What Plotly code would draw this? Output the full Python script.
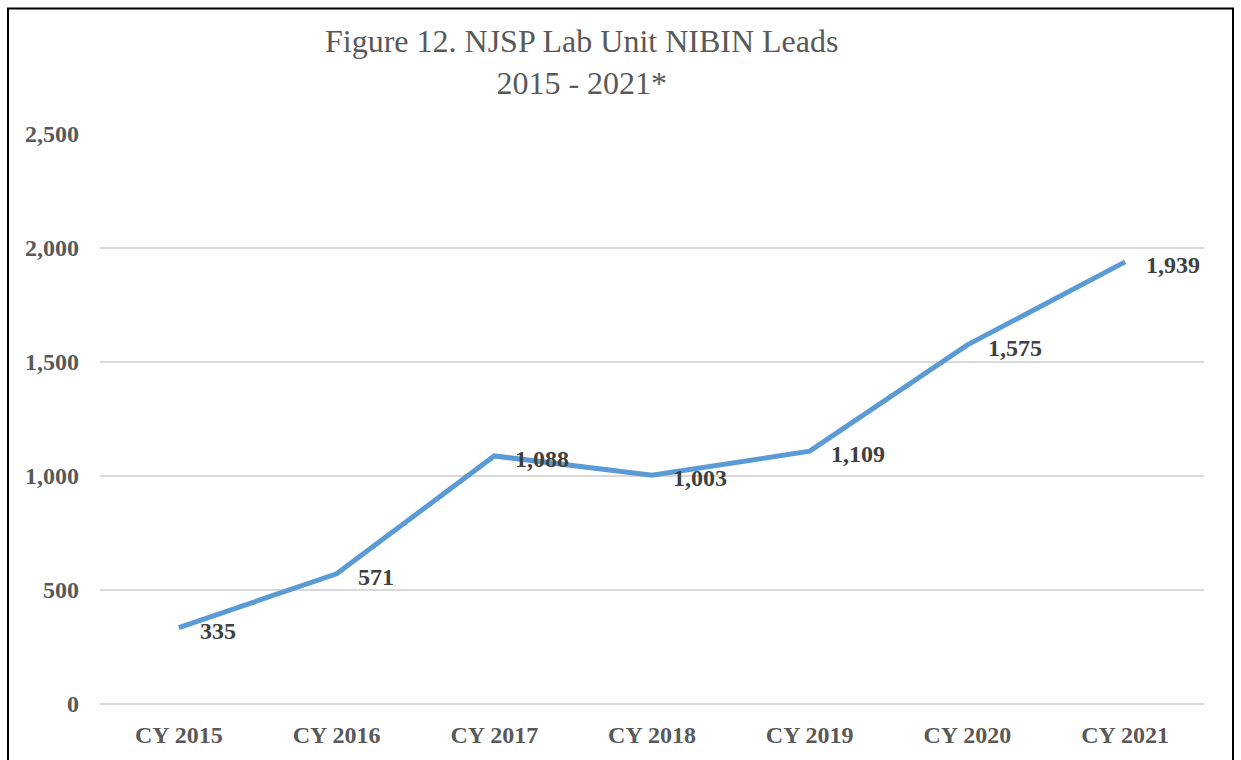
import plotly.graph_objects as go

categories = ["CY 2015", "CY 2016", "CY 2017", "CY 2018", "CY 2019", "CY 2020", "CY 2021"]
leads = [335, 571, 1088, 1003, 1109, 1575, 1939]
y_ticks = [0, 500, 1000, 1500, 2000, 2500]

W, H = 1241, 760
ml, mr, mt, mb = 100, 37, 134, 54
pw = W - ml - mr
ph = H - mt - mb

def px_x(p):
    return (p - ml) / pw

def px_y(p):
    return (H - mb - p) / ph

serif = "Liberation Serif, Times New Roman, serif"

fig = go.Figure()
fig.add_trace(go.Scatter(
    x=categories, y=leads, mode="lines",
    line=dict(color="#5B9BD5", width=5),
    hoverinfo="x+y",
))

for c, v in zip(categories, leads):
    fig.add_annotation(
        x=c, y=v, xref="x", yref="y", text=f"{v:,}", showarrow=False,
        xanchor="left", yanchor="middle", xshift=19, yshift=-3,
        font=dict(family=serif, size=24, color="#404040", weight="bold"),
    )

fig.add_annotation(
    text="Figure 12. NJSP Lab Unit NIBIN Leads<br>2015 - 2021*",
    x=px_x(581), xref="paper", xanchor="center",
    y=px_y(62), yref="paper", yanchor="middle",
    showarrow=False,
    font=dict(family=serif, size=32, color="#595959"),
)

fig.update_layout(
    width=W, height=H,
    margin=dict(l=ml, r=mr, t=mt, b=mb),
    paper_bgcolor="white", plot_bgcolor="white",
    showlegend=False,
    xaxis=dict(
        showgrid=False, showline=False, zeroline=False,
        ticks="", ticklabelstandoff=14,
        tickfont=dict(family=serif, size=24, color="#595959", weight="bold"),
        range=[-0.5, len(categories) - 0.5],
    ),
    yaxis=dict(
        range=[0, 2500], tickvals=y_ticks, tickformat=",d",
        showgrid=True, gridcolor="#D9D9D9", gridwidth=1.5,
        zeroline=True, zerolinecolor="#D9D9D9", zerolinewidth=1.5,
        showline=False, ticks="", ticklabelstandoff=20,
        tickfont=dict(family=serif, size=24, color="#595959", weight="bold"),
    ),
    shapes=[
        dict(type="rect", xref="paper", yref="paper",
             x0=px_x(8), x1=px_x(1233), y0=px_y(775), y1=px_y(8),
             line=dict(color="black", width=2), fillcolor="rgba(0,0,0,0)", layer="above"),
    ],
)

fig.write_html("out.html", config={"displayModeBar": False},
               post_script="document.body.style.margin='0';")
